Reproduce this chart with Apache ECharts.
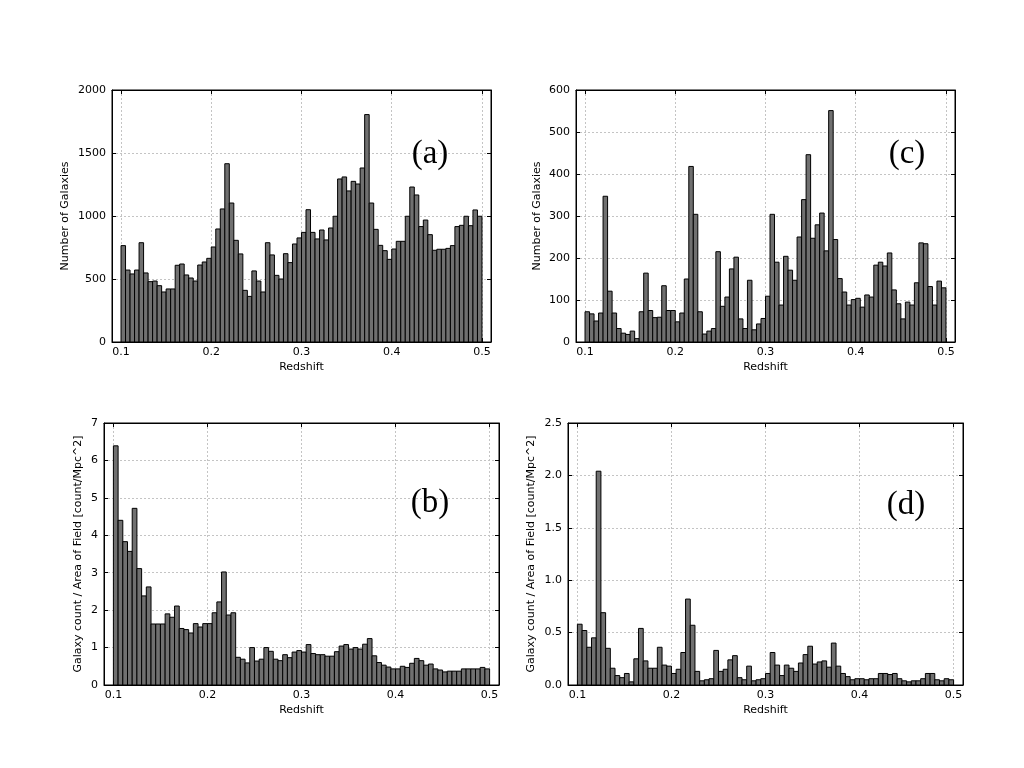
<!DOCTYPE html>
<html>
<head>
<meta charset="utf-8">
<title>Galaxy redshift histograms</title>
<script src="https://cdn.jsdelivr.net/npm/echarts@6/dist/echarts.min.js"></script>
<style>
  html, body { margin: 0; padding: 0; background: #fff; }
  #chart { width: 1024px; height: 768px; }
</style>
</head>
<body>
<div id="chart"></div>
<script>
// 80 redshift bins, 0.1 .. 0.5
const binStart = 0.1
const binWidth = 0.005
const binCount = 80
const binEdges = []
for (let i = 0; i <= binCount; i++) binEdges.push(+(binStart + i * binWidth).toFixed(3))

const xTicks = [0.1, 0.2, 0.3, 0.4, 0.5]

// (a) number of galaxies per bin
const countsA = [
  765, 571, 540, 571, 788, 548, 479, 484, 447, 397,
  421, 421, 609, 619, 532, 508, 484, 611, 635, 664,
  754, 897, 1056, 1415, 1103, 807, 699, 410, 362, 564,
  484, 397, 788, 691, 529, 500, 701, 630, 778, 826,
  870, 1050, 870, 818, 889, 810, 905, 998, 1294, 1310,
  1199, 1275, 1254, 1381, 1805, 1103, 894, 767, 725, 656,
  738, 799, 799, 998, 1230, 1167, 916, 968, 852, 728,
  736, 736, 743, 765, 916, 926, 998, 923, 1048, 998
]

// (b) galaxy count / area of field
const densityB = [
  6.39, 4.40, 3.83, 3.57, 4.72, 3.11, 2.38, 2.62, 1.63, 1.63,
  1.63, 1.90, 1.81, 2.11, 1.51, 1.48, 1.39, 1.64, 1.55, 1.64,
  1.64, 1.93, 2.22, 3.02, 1.87, 1.93, 0.74, 0.69, 0.59, 1.00,
  0.64, 0.69, 1.00, 0.90, 0.69, 0.65, 0.81, 0.73, 0.88, 0.92,
  0.88, 1.08, 0.84, 0.81, 0.81, 0.77, 0.77, 0.89, 1.04, 1.08,
  0.96, 1.00, 0.96, 1.09, 1.24, 0.78, 0.60, 0.53, 0.48, 0.43,
  0.43, 0.50, 0.47, 0.58, 0.71, 0.65, 0.53, 0.56, 0.43, 0.40,
  0.35, 0.37, 0.37, 0.37, 0.43, 0.43, 0.43, 0.43, 0.47, 0.43
]

// (c) number of galaxies per bin
const countsC = [
  72, 67, 50, 69, 347, 121, 69, 32, 21, 18,
  26, 8, 72, 164, 75, 58, 59, 134, 75, 75,
  48, 69, 150, 418, 304, 72, 19, 26, 32, 215,
  85, 107, 174, 202, 55, 32, 147, 29, 43, 56,
  109, 304, 190, 88, 204, 171, 147, 250, 339, 446,
  247, 279, 307, 217, 551, 244, 151, 119, 88, 101,
  104, 83, 112, 107, 183, 190, 181, 212, 124, 91,
  55, 95, 88, 141, 236, 234, 132, 88, 145, 129
]

// (d) galaxy count / area of field
const densityD = [
  0.58, 0.52, 0.36, 0.45, 2.04, 0.69, 0.35, 0.16, 0.09, 0.07,
  0.11, 0.03, 0.25, 0.54, 0.23, 0.16, 0.16, 0.36, 0.19, 0.18,
  0.11, 0.15, 0.31, 0.82, 0.57, 0.13, 0.04, 0.05, 0.06, 0.33,
  0.13, 0.15, 0.24, 0.28, 0.07, 0.05, 0.18, 0.04, 0.05, 0.06,
  0.11, 0.31, 0.19, 0.09, 0.19, 0.16, 0.13, 0.21, 0.29, 0.37,
  0.20, 0.22, 0.23, 0.17, 0.40, 0.18, 0.11, 0.08, 0.05, 0.06,
  0.06, 0.05, 0.06, 0.06, 0.11, 0.11, 0.10, 0.11, 0.06, 0.04,
  0.03, 0.04, 0.04, 0.06, 0.11, 0.11, 0.05, 0.04, 0.06, 0.05
]

const font = 'DejaVu Sans'
const densityName = 'Galaxy count / Area of Field [count/Mpc^2]'

const panels = [
  { values: countsA, tag: '(a)', yName: 'Number of Galaxies', yMax: 2000, yStep: 500, digits: 0,
    box: { left: 112, top: 90, width: 379, height: 252 }, yGap: 41, tagAt: [430, 154] },
  { values: countsC, tag: '(c)', yName: 'Number of Galaxies', yMax: 600, yStep: 100, digits: 0,
    box: { left: 576, top: 90, width: 379, height: 252 }, yGap: 33, tagAt: [907, 154] },
  { values: densityB, tag: '(b)', yName: densityName, yMax: 7, yStep: 1, digits: 0,
    box: { left: 104, top: 423, width: 395, height: 262 }, yGap: 20, tagAt: [430, 503] },
  { values: densityD, tag: '(d)', yName: densityName, yMax: 2.5, yStep: 0.5, digits: 1,
    box: { left: 568, top: 423, width: 395, height: 262 }, yGap: 31, tagAt: [906, 505] }
]

const textStyle = { fontFamily: font, fontSize: 11, color: '#000' }
const tickStyle = { inside: true, length: 4, lineStyle: { color: '#000' } }
// light dotted grid like matplotlib's classic style
const gridLine = { show: true, lineStyle: { color: '#c4c4c4', width: 1, type: [2, 2] } }

const grid = []
const xAxis = []
const yAxis = []
const series = []

panels.forEach((p, i) => {
  grid.push(Object.assign({ show: true, borderColor: '#000', borderWidth: 1 }, p.box))

  // bottom axis with labels, top axis only carries the ticks
  xAxis.push({
    type: 'value', gridIndex: i, position: 'bottom', min: 0.09, max: 0.51,
    name: 'Redshift', nameLocation: 'middle', nameGap: 20, nameTextStyle: textStyle,
    axisLine: { onZero: false, lineStyle: { color: '#000' } },
    axisTick: Object.assign({ customValues: xTicks }, tickStyle),
    axisLabel: Object.assign({ customValues: xTicks, margin: 5, formatter: v => v.toFixed(1) }, textStyle),
    splitLine: gridLine
  })
  xAxis.push({
    type: 'value', gridIndex: i, position: 'top', min: 0.09, max: 0.51,
    axisLine: { onZero: false, lineStyle: { color: '#000' } },
    axisTick: Object.assign({ customValues: xTicks }, tickStyle),
    axisLabel: { show: false },
    splitLine: { show: false }
  })

  yAxis.push({
    type: 'value', gridIndex: i, position: 'left', min: 0, max: p.yMax, interval: p.yStep,
    name: p.yName, nameLocation: 'middle', nameGap: p.yGap, nameTextStyle: textStyle,
    axisLine: { show: true, onZero: false, lineStyle: { color: '#000' } },
    axisTick: tickStyle,
    axisLabel: Object.assign({ margin: 6, formatter: v => v.toFixed(p.digits) }, textStyle),
    splitLine: gridLine
  })
  yAxis.push({
    type: 'value', gridIndex: i, position: 'right', min: 0, max: p.yMax, interval: p.yStep,
    axisLine: { show: true, onZero: false, lineStyle: { color: '#000' } },
    axisTick: tickStyle,
    axisLabel: { show: false },
    splitLine: { show: false }
  })

  series.push({
    type: 'custom',
    xAxisIndex: 2 * i,
    yAxisIndex: 2 * i,
    encode: { x: [0, 1], y: 2 },
    data: p.values.map((v, k) => [binEdges[k], binEdges[k + 1], v]),
    renderItem: (params, api) => {
      const p0 = api.coord([api.value(0), 0])
      const p1 = api.coord([api.value(1), api.value(2)])
      return {
        type: 'rect',
        shape: { x: p0[0], y: p1[1], width: p1[0] - p0[0], height: p0[1] - p1[1] },
        style: { fill: '#707070', stroke: '#000', lineWidth: 1 }
      }
    }
  })
})

const chart = echarts.init(document.getElementById('chart'))
chart.setOption({
  animation: false,
  backgroundColor: '#fff',
  grid: grid,
  xAxis: xAxis,
  yAxis: yAxis,
  series: series,
  graphic: panels.map(p => ({
    type: 'text', x: p.tagAt[0], y: p.tagAt[1], z: 10,
    style: {
      text: p.tag, font: '33px "Liberation Serif"', fill: '#000',
      align: 'center', verticalAlign: 'middle',
      textAlign: 'center', textVerticalAlign: 'middle'
    }
  }))
})
</script>
</body>
</html>
